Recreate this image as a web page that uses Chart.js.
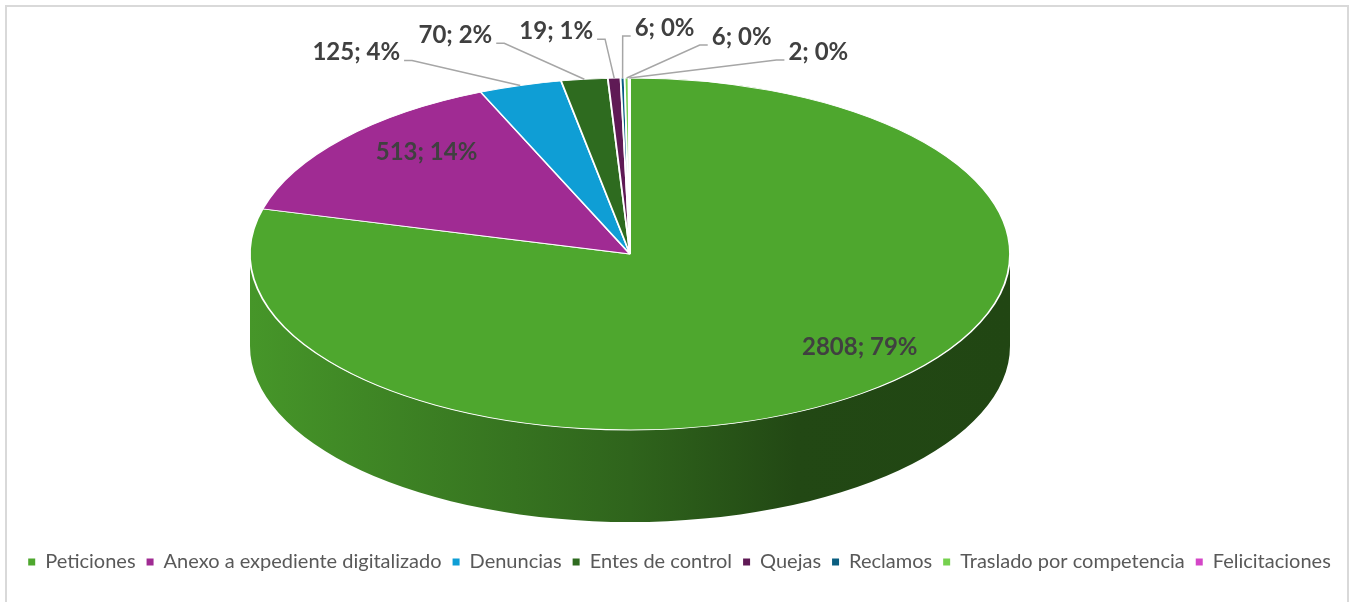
<!DOCTYPE html>
<html lang="es">
<head>
<meta charset="UTF-8">
<title>Solicitudes por tipo</title>
<script src="https://cdn.jsdelivr.net/npm/chart.js"></script>
<style>
    html, body { margin: 0; padding: 0; background: #fff; overflow: hidden; }
    #frame {
        position: absolute; left: 5px; top: 5px;
        width: 1344px; height: 700px;
        border: 2px solid #d9d9d9; box-sizing: border-box;
    }
    #pieChart { position: absolute; left: 0; top: 0; }
</style>
</head>
<body>
<div id="frame"></div>
<canvas id="pieChart" width="1349" height="602"></canvas>
<script>
    const categories = ['Peticiones', 'Anexo a expediente digitalizado', 'Denuncias', 'Entes de control',
        'Quejas', 'Reclamos', 'Traslado por competencia', 'Felicitaciones'];
    const values = [2808, 513, 125, 70, 19, 6, 6, 2];
    const colors = ['#4EA72E', '#A02B93', '#0F9ED5', '#2E6B1F', '#5F1A55', '#0A5E80', '#76D14F', '#D446C7'];

    function shade(hex, f) {
        const n = parseInt(hex.slice(1), 16);
        const r = Math.round(((n >> 16) & 255) * f);
        const g = Math.round(((n >> 8) & 255) * f);
        const b = Math.round((n & 255) * f);
        return `rgb(${r},${g},${b})`;
    }

    // squash the round pie into a tilted disc and add the side wall
    const pie3d = {
        id: 'pie3d',
        beforeDatasetsDraw(chart, args, opts) {
            const meta = chart.getDatasetMeta(0);
            const first = meta.data[0];
            const ctx = chart.ctx;
            const { cx, cy, rx, ry, depth } = opts;
            meta.data.forEach((arc, i) => {
                const color = colors[i];
                [-2 * Math.PI, 0, 2 * Math.PI].forEach(k => {
                    const a = Math.max(arc.startAngle + k, 0);
                    const b = Math.min(arc.endAngle + k, Math.PI);
                    if (b <= a) return;
                    const grad = ctx.createLinearGradient(cx - rx, 0, cx + rx, 0);
                    grad.addColorStop(0, shade(color, 0.9));
                    grad.addColorStop(0.5, shade(color, 0.6));
                    grad.addColorStop(0.72, shade(color, 0.43));
                    grad.addColorStop(1, shade(color, 0.42));
                    ctx.beginPath();
                    ctx.ellipse(cx, cy, rx, ry, 0, a, b, false);
                    ctx.ellipse(cx, cy + depth, rx, ry, 0, b, a, true);
                    ctx.closePath();
                    ctx.fillStyle = grad;
                    ctx.fill();
                });
            });
            ctx.save();
            ctx.translate(cx, cy);
            ctx.scale(rx / first.outerRadius, ry / first.outerRadius);
            ctx.translate(-first.x, -first.y);
        },
        afterDatasetsDraw(chart) {
            chart.ctx.restore();
        }
    };

    const sliceLabels = {
        id: 'sliceLabels',
        afterDraw(chart, args, opts) {
            const ctx = chart.ctx;
            const meta = chart.getDatasetMeta(0);
            const { cx, cy, rx, ry } = chart.options.plugins.pie3d;
            const total = values.reduce((s, v) => s + v, 0);
            ctx.save();
            ctx.font = opts.font;
            ctx.textAlign = 'center';
            ctx.textBaseline = 'middle';
            ctx.strokeStyle = '#a6a6a6';
            ctx.lineWidth = 1.5;
            meta.data.forEach((arc, i) => {
                const mid = (arc.startAngle + arc.endAngle) / 2;
                const ax = cx + rx * Math.cos(mid);
                const ay = cy + ry * Math.sin(mid);
                const lx = ax + opts.offsets[i][0];
                const ly = ay + opts.offsets[i][1];
                const text = values[i] + '; ' + Math.round(values[i] / total * 100) + '%';
                if (opts.leaders[i]) {
                    const w = ctx.measureText(text).width;
                    const left = lx < ax;
                    const sx = left ? lx + w / 2 + 4 : lx - w / 2 - 4;
                    const sy = ly + 8;
                    const hx = left ? sx + 8 : sx - 8;
                    ctx.beginPath();
                    ctx.moveTo(sx, sy);
                    ctx.lineTo(hx, sy);
                    ctx.lineTo(ax, ay);
                    ctx.stroke();
                }
                ctx.fillStyle = opts.color;
                ctx.fillText(text, lx, ly);
            });
            ctx.restore();
        }
    };

    new Chart(document.getElementById('pieChart'), {
        type: 'pie',
        data: {
            labels: categories,
            datasets: [{
                data: values,
                backgroundColor: colors,
                borderColor: '#ffffff',
                borderWidth: 1.3,
                clip: false
            }]
        },
        options: {
            responsive: false,
            animation: false,
            events: [],
            layout: { padding: { left: 10, right: 0, top: 0, bottom: 20 } },
            plugins: {
                tooltip: { enabled: false },
                pie3d: { cx: 630, cy: 254, rx: 380, ry: 176, depth: 92 },
                sliceLabels: {
                    font: 'bold 24px Lato',
                    color: '#404040',
                    offsets: [[-2, -46], [84, 13], [-164, -33], [-129, -44], [-58, -47], [42, -50], [115, -41], [189, -26]],
                    leaders: [false, false, true, true, true, true, true, true]
                },
                legend: {
                    position: 'bottom',
                    labels: {
                        color: '#595959',
                        font: { family: 'Lato', size: 20 },
                        usePointStyle: true,
                        boxWidth: 7,
                        boxHeight: 7,
                        padding: 11,
                        generateLabels: () => categories.map((c, i) => ({
                            text: c,
                            fillStyle: colors[i],
                            strokeStyle: colors[i],
                            lineWidth: 0,
                            pointStyle: 'rect',
                            fontColor: '#595959',
                            hidden: false,
                            index: i
                        }))
                    }
                }
            }
        },
        plugins: [pie3d, sliceLabels]
    });
</script>
</body>
</html>
